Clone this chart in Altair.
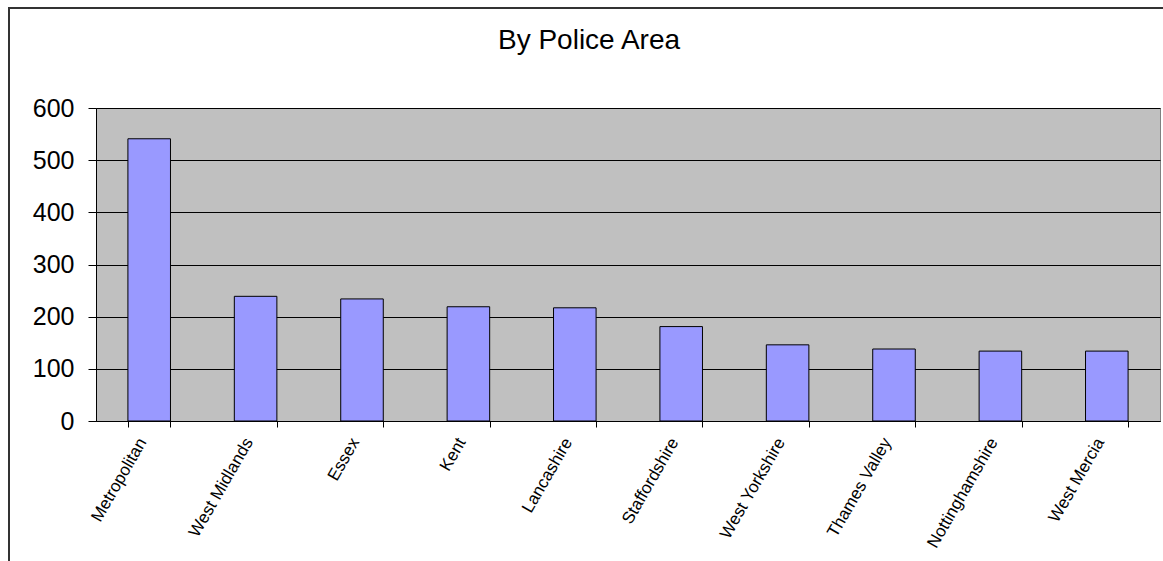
import altair as alt
import pandas as pd

areas = ["Metropolitan", "West Midlands", "Essex", "Kent", "Lancashire",
         "Staffordshire", "West Yorkshire", "Thames Valley", "Nottinghamshire", "West Mercia"]
counts = [541, 239, 234, 219, 217, 181, 146, 138, 134, 134]
title_text = "By Police Area"

df = pd.DataFrame({"area": areas, "count": counts})

W, H = 1064, 313
FONT = "Liberation Sans"

base = alt.Chart(df)

bars = base.mark_bar(color="#9999FF", stroke="#000000", strokeWidth=1).encode(
    x=alt.X("area:N", sort=areas, title=None,
            scale=alt.Scale(paddingInner=0.6, paddingOuter=0.3),
            axis=alt.Axis(labelAngle=-60, labelAlign="right", labelBaseline="middle",
                          labelFont=FONT, labelFontSize=17, labelColor="#000000",
                          labelPadding=12, tickBand="extent", tickSize=6,
                          tickColor="#000000", domainColor="#000000", labelOffset=-7,
                          grid=False)),
    y=alt.Y("count:Q", title=None,
            scale=alt.Scale(domain=[0, 600], nice=False),
            axis=alt.Axis(values=[0, 100, 200, 300, 400, 500, 600], labelFont=FONT,
                          labelFontSize=25, labelColor="#000000", labelPadding=14,
                          tickSize=8, tickColor="#000000", domainColor="#000000",
                          gridColor="#000000", gridOpacity=1, gridWidth=1)),
)

title = alt.Chart(pd.DataFrame({"t": [title_text]})).mark_text(
    font=FONT, fontSize=28, color="#000000", align="center", baseline="alphabetic"
).encode(text="t:N", x=alt.value(493), y=alt.value(-59))

border_top = alt.Chart(pd.DataFrame({"a": [0]})).mark_rule(color="#333333", strokeWidth=2).encode(
    x=alt.value(-88), x2=alt.value(1200), y=alt.value(-100))
border_left = alt.Chart(pd.DataFrame({"a": [0]})).mark_rule(color="#333333", strokeWidth=2).encode(
    x=alt.value(-87), y=alt.value(-100), y2=alt.value(500))

chart = alt.layer(bars, title, border_top, border_left).properties(
    width=W, height=H,
    autosize=alt.AutoSizeParams(type="none"),
    padding={"left": 96, "top": 108, "right": 3, "bottom": 140},
    background="#FFFFFF",
).configure_view(fill="#C0C0C0", stroke="#808080", strokeWidth=1)

chart.save("out.html", embed_options={"renderer": "svg", "actions": False})
